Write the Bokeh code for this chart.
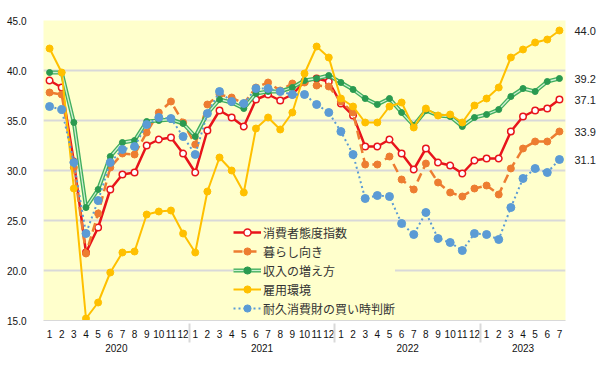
from bokeh.plotting import figure
from bokeh.models import (ColumnDataSource, FactorRange, Range1d, Legend, LegendItem,
                          LinearAxis, FixedTicker, NumeralTickFormatter)
from bokeh.embed import file_html
from bokeh.resources import INLINE

# ---------------- data ----------------
years = ["2020"] * 12 + ["2021"] * 12 + ["2022"] * 12 + ["2023"] * 7
months = [str(m) for m in range(1, 13)] * 3 + [str(m) for m in range(1, 8)]

series_names = ["消費者態度指数", "暮らし向き", "収入の増え方", "雇用環境", "耐久消費財の買い時判断"]

confidence = [39.0, 38.3, 30.9, 21.8, 24.3, 28.1, 29.6, 29.8, 32.5, 33.1, 33.3, 31.7,
              29.8, 34.0, 36.0, 35.3, 34.4, 37.1, 37.6, 37.0, 37.6, 38.9, 39.2, 38.9,
              36.7, 35.5, 32.4, 32.4, 33.1, 31.7, 30.1, 32.2, 30.8, 30.5, 29.7, 31.0,
              31.2, 31.2, 33.9, 35.4, 36.0, 36.2, 37.1]
living = [37.8, 37.6, 30.3, 21.7, 25.7, 30.3, 31.7, 31.6, 33.8, 35.8, 36.9, 34.8,
          32.6, 36.6, 37.6, 37.3, 36.7, 38.3, 38.8, 38.0, 38.7, 38.8, 38.5, 38.4,
          36.9, 35.8, 30.6, 30.6, 31.4, 29.1, 28.1, 30.7, 28.8, 27.8, 27.4, 28.2,
          28.5, 27.6, 30.2, 32.2, 32.9, 32.9, 33.9]
income = [39.8, 39.8, 34.8, 26.3, 28.1, 31.4, 32.8, 33.0, 34.9, 35.0, 35.1, 34.7,
          33.4, 35.7, 37.1, 36.8, 36.2, 37.7, 37.9, 37.9, 38.3, 39.0, 39.2, 39.5,
          38.8, 38.1, 37.2, 36.6, 37.2, 35.8, 34.5, 36.0, 35.5, 35.4, 34.4, 35.3,
          35.6, 36.1, 37.4, 38.2, 37.9, 38.9, 39.2]
employment = [42.2, 39.8, 28.2, 15.2, 16.8, 19.8, 21.8, 21.9, 25.6, 25.9, 26.0, 23.7,
              21.8, 27.9, 31.3, 30.0, 27.8, 34.2, 35.3, 34.1, 35.8, 39.7, 42.4, 41.3,
              37.2, 36.4, 34.8, 34.8, 36.4, 36.8, 34.3, 36.2, 35.5, 35.6, 34.8, 36.5,
              37.2, 38.3, 41.3, 42.1, 42.8, 43.1, 44.0]
durables = [36.4, 36.1, 30.8, 23.7, 27.0, 30.8, 32.1, 32.4, 34.6, 35.3, 35.2, 33.4,
            31.6, 35.7, 37.9, 36.9, 36.7, 38.2, 38.2, 37.9, 37.6, 37.6, 36.6, 35.8,
            33.9, 31.6, 27.2, 27.5, 27.4, 24.7, 23.6, 25.8, 23.2, 22.8, 22.0, 23.7,
            23.6, 23.1, 26.3, 29.2, 30.2, 29.8, 31.1]

y_ticks = [15, 20, 25, 30, 35, 40, 45]

# ---------------- figure ----------------
factors = list(zip(years, months))
src = ColumnDataSource(dict(x=factors, conf=confidence, liv=living, inc=income,
                            emp=employment, dur=durables))

p = figure(width=600, height=368, output_backend="svg", toolbar_location=None,
           x_range=FactorRange(*factors, range_padding=0, group_padding=0,
                               subgroup_padding=0, factor_padding=0),
           y_range=Range1d(15, 45))
p.min_border_left = 43
p.min_border_right = 35
p.min_border_top = 20
p.min_border_bottom = 48
p.background_fill_color = "#FFFFCC"
p.border_fill_color = "white"
p.outline_line_color = None

p.xgrid.grid_line_color = None
p.ygrid.grid_line_color = "#d9d9d9"
p.ygrid.grid_line_width = 2
p.ygrid.ticker = FixedTicker(ticks=y_ticks)

# left axis
ya = p.yaxis[0]
ya.ticker = FixedTicker(ticks=y_ticks)
ya.formatter = NumeralTickFormatter(format="0.0")
ya.axis_line_color = None
ya.major_tick_line_color = None
ya.minor_tick_line_color = None
ya.major_label_standoff = 11
ya.major_label_text_font = "Liberation Sans"
ya.major_label_text_font_size = "10px"
ya.major_label_text_color = "#111111"

# bottom axis
xa = p.xaxis[0]
xa.axis_line_color = "#d9d9d9"
xa.major_tick_line_color = None
xa.minor_tick_line_color = None
xa.major_label_text_font = "Liberation Sans"
xa.major_label_text_font_size = "10px"
xa.major_label_text_color = "#111111"
xa.major_label_standoff = 3
xa.group_text_font = "Liberation Sans"
xa.group_text_font_size = "10px"
xa.group_text_color = "#111111"
xa.group_text_font_style = "normal"
xa.separator_line_color = "#d9d9d9"
xa.separator_line_width = 2

# right axis with last values
last_vals = [confidence[-1], living[-1], income[-1], employment[-1], durables[-1]]
ra = LinearAxis(ticker=FixedTicker(ticks=last_vals),
                formatter=NumeralTickFormatter(format="0.0"))
ra.axis_line_color = None
ra.major_tick_line_color = None
ra.minor_tick_line_color = None
ra.major_label_standoff = 3
ra.major_label_text_font = "Liberation Sans"
ra.major_label_text_font_size = "11px"
ra.major_label_text_color = "#222222"
p.add_layout(ra, "right")

# ---------------- series ----------------
RED = "#E8141B"
ORANGE = "#ED7D31"
GREEN = "#41AE5E"
GREEN_IN = "#CFF0D2"
GREEN_DOT = "#2A9A50"
YELLOW = "#FFC000"
BLUE = "#5B9BD5"

r_l = p.line("x", "conf", source=src, line_color=RED, line_width=2.5)
r_m = p.scatter("x", "conf", source=src, marker="circle", size=6.5,
                fill_color="white", line_color=RED, line_width=1.5)

o_l = p.line("x", "liv", source=src, line_color=ORANGE, line_width=2.5, line_dash="9 5")
o_m = p.scatter("x", "liv", source=src, marker="circle", size=7,
                fill_color=ORANGE, line_color=ORANGE)

g_l = p.line("x", "inc", source=src, line_color=GREEN, line_width=4)
g_i = p.line("x", "inc", source=src, line_color=GREEN_IN, line_width=1.3)
g_m = p.scatter("x", "inc", source=src, marker="circle", size=6,
                fill_color=GREEN_DOT, line_color=GREEN_DOT)

y_l = p.line("x", "emp", source=src, line_color=YELLOW, line_width=2)
y_m = p.scatter("x", "emp", source=src, marker="circle", size=7,
                fill_color=YELLOW, line_color=YELLOW)

b_l = p.line("x", "dur", source=src, line_color=BLUE, line_width=2, line_dash="2 3")
b_m = p.scatter("x", "dur", source=src, marker="circle", size=8,
                fill_color=BLUE, line_color=BLUE)

legend = Legend(items=[
    LegendItem(label=series_names[0], renderers=[r_l, r_m]),
    LegendItem(label=series_names[1], renderers=[o_l, o_m]),
    LegendItem(label=series_names[2], renderers=[g_l, g_i, g_m]),
    LegendItem(label=series_names[3], renderers=[y_l, y_m]),
    LegendItem(label=series_names[4], renderers=[b_l, b_m]),
], location=(190, 3))
legend.background_fill_color = "#FFFFCC"
legend.background_fill_alpha = 1
legend.border_line_color = None
legend.padding = 3
legend.margin = 0
legend.spacing = 1
legend.glyph_width = 28
legend.glyph_height = 18
legend.label_height = 18
legend.label_standoff = 2
legend.label_text_font = "Noto Sans CJK JP"
legend.label_text_font_size = "12px"
legend.label_text_color = "#333333"
p.add_layout(legend, "center")

open("out.html", "w").write(file_html(p, INLINE))
